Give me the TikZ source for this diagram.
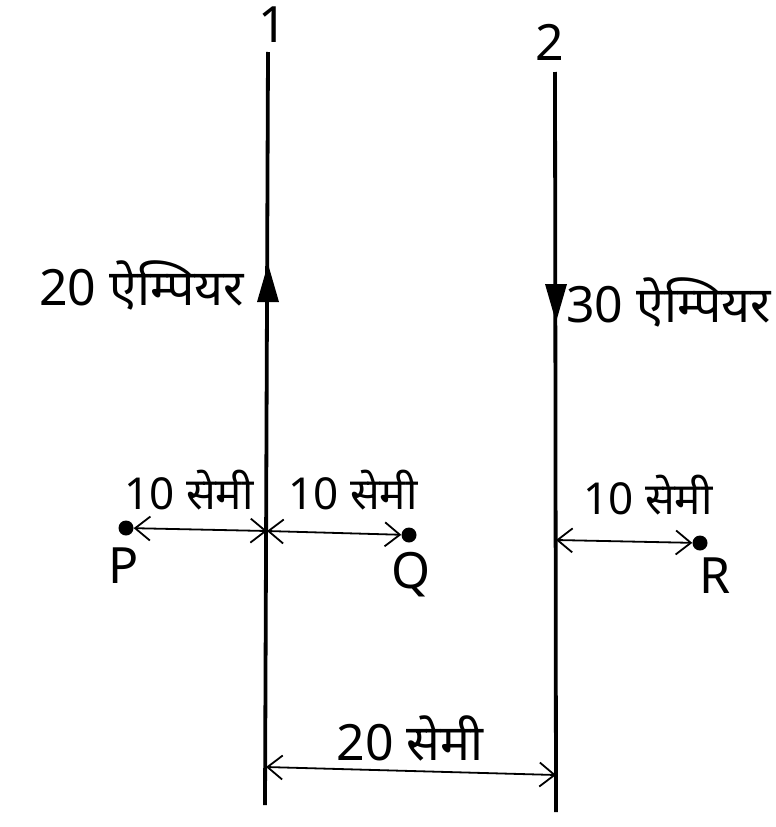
\documentclass[tikz,border=0pt]{standalone}
\usepackage{fontspec}
\setmainfont{Noto Sans}
\newfontfamily\deva[Script=Devanagari]{Noto Sans}
\usetikzlibrary{arrows.meta,decorations.markings}
\begin{document}
\begin{tikzpicture}[x=1pt,y=-1pt,
  wire/.style={line width=3.8pt},
  dim/.style={line width=1.8pt,{Straight Barb[length=15pt,width=24pt,line width=1.8pt]}-{Straight Barb[length=15pt,width=24pt,line width=1.8pt]}},
  lbl/.style={font=\deva\fontsize{50}{52}\selectfont,inner sep=0pt},
  small/.style={font=\deva\fontsize{44}{46}\selectfont,inner sep=0pt},
  pt/.style={circle,fill=black,inner sep=0pt,minimum size=15pt}]
\useasboundingbox (0,0) rectangle (776,827);
% wires
\coordinate (w1t) at (268,52);
\coordinate (w1b) at (265,805);
\coordinate (w2t) at (555,72);
\coordinate (w2b) at (556,812);
\draw[wire] (w1t) -- (w1b);
\draw[wire] (w2t) -- (w2b);
% current arrows
\fill (268,264) -- (257,302) -- (279,302) -- cycle;
\fill (556,322) -- (545,284) -- (567,284) -- cycle;
% wire labels
\node[lbl] (n1) at (273,25) {1};
\node[lbl] (n2) at (550,42) {2};
\node[lbl,anchor=east] (i1) at (244,285) {20 ऐम्पियर};
\node[lbl,anchor=west] (i2) at (566,302) {30 ऐम्पियर};
% points
\node[pt] (P) at (126,528) {};
\node[pt] (Q) at (409,535) {};
\node[pt] (R) at (700,543) {};
\node[lbl] (Pl) at (124,566) {P};
\node[lbl] (Ql) at (411,575) {Q};
\node[lbl] (Rl) at (715,576) {R};
% dimension junctions on wires
\coordinate (j1) at (267,531);
\coordinate (j2) at (556,540);
\coordinate (b1) at (266,767);
\coordinate (b2) at (556,775);
\draw[dim] (P) -- (j1);
\draw[dim] (j1) -- (Q);
\draw[dim] (j2) -- (R);
\draw[dim] (b1) -- (b2);
% distance labels
\node[small] (d1) at (189,490) {10 सेमी};
\node[small] (d2) at (353,490) {10 सेमी};
\node[small] (d3) at (648,495) {10 सेमी};
\node[lbl] (d4) at (410,738) {20 सेमी};
\end{tikzpicture}
\end{document}
